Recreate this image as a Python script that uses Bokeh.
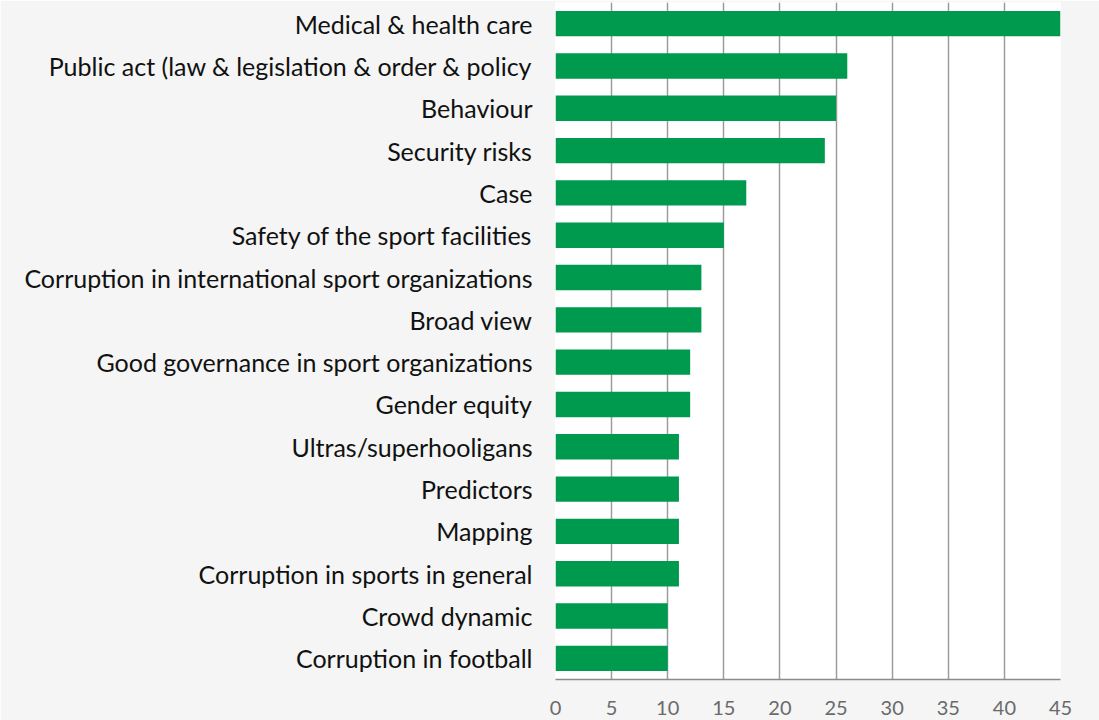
from bokeh.plotting import figure
from bokeh.models import Range1d, FactorRange, FixedTicker
from bokeh.embed import file_html
from bokeh.resources import INLINE

categories = [
    "Medical & health care",
    "Public act (law & legislation & order & policy",
    "Behaviour",
    "Security risks",
    "Case",
    "Safety of the sport facilities",
    "Corruption in international sport organizations",
    "Broad view",
    "Good governance in sport organizations",
    "Gender equity",
    "Ultras/superhooligans",
    "Predictors",
    "Mapping",
    "Corruption in sports in general",
    "Crowd dynamic",
    "Corruption in football",
]
values = [45, 26, 25, 24, 17, 15, 13, 13, 12, 12, 11, 11, 11, 11, 10, 10]
x_ticks = [0, 5, 10, 15, 20, 25, 30, 35, 40, 45]

factors = list(reversed(categories))

p = figure(
    width=1099, height=720,
    y_range=FactorRange(factors=factors),
    x_range=Range1d(0, 45),
    output_backend="svg", toolbar_location=None,
    min_border_left=555, min_border_right=39, min_border_top=2, min_border_bottom=41,
)
p.title.visible = False
p.hbar(y=categories, right=values, left=0, height=0.6, color="#009a4e", line_color=None)

p.background_fill_color = "white"
p.border_fill_color = "#f4f5f4"
p.outline_line_color = None

p.xgrid.ticker = FixedTicker(ticks=x_ticks)
p.xgrid.grid_line_color = "#9c9c9c"
p.xgrid.grid_line_width = 1.5
p.ygrid.grid_line_color = None

p.xaxis.ticker = FixedTicker(ticks=x_ticks)
p.xaxis.axis_line_color = "#8a8a8a"
p.xaxis.axis_line_width = 1.5
p.xaxis.major_tick_line_color = None
p.xaxis.minor_tick_line_color = None
p.xaxis.major_tick_out = 0
p.xaxis.major_tick_in = 0
p.xaxis.major_label_standoff = 21
p.xaxis.major_label_text_font = "Lato"
p.xaxis.major_label_text_font_size = "20px"
p.xaxis.major_label_text_color = "#6a6a6a"

p.yaxis.axis_line_color = None
p.yaxis.major_tick_line_color = None
p.yaxis.minor_tick_line_color = None
p.yaxis.major_tick_out = 0
p.yaxis.major_tick_in = 0
p.yaxis.major_label_standoff = 23
p.yaxis.major_label_text_font = "Lato"
p.yaxis.major_label_text_font_size = "25px"
p.yaxis.major_label_text_color = "#111111"

open("out.html", "w").write(file_html(p, INLINE))
